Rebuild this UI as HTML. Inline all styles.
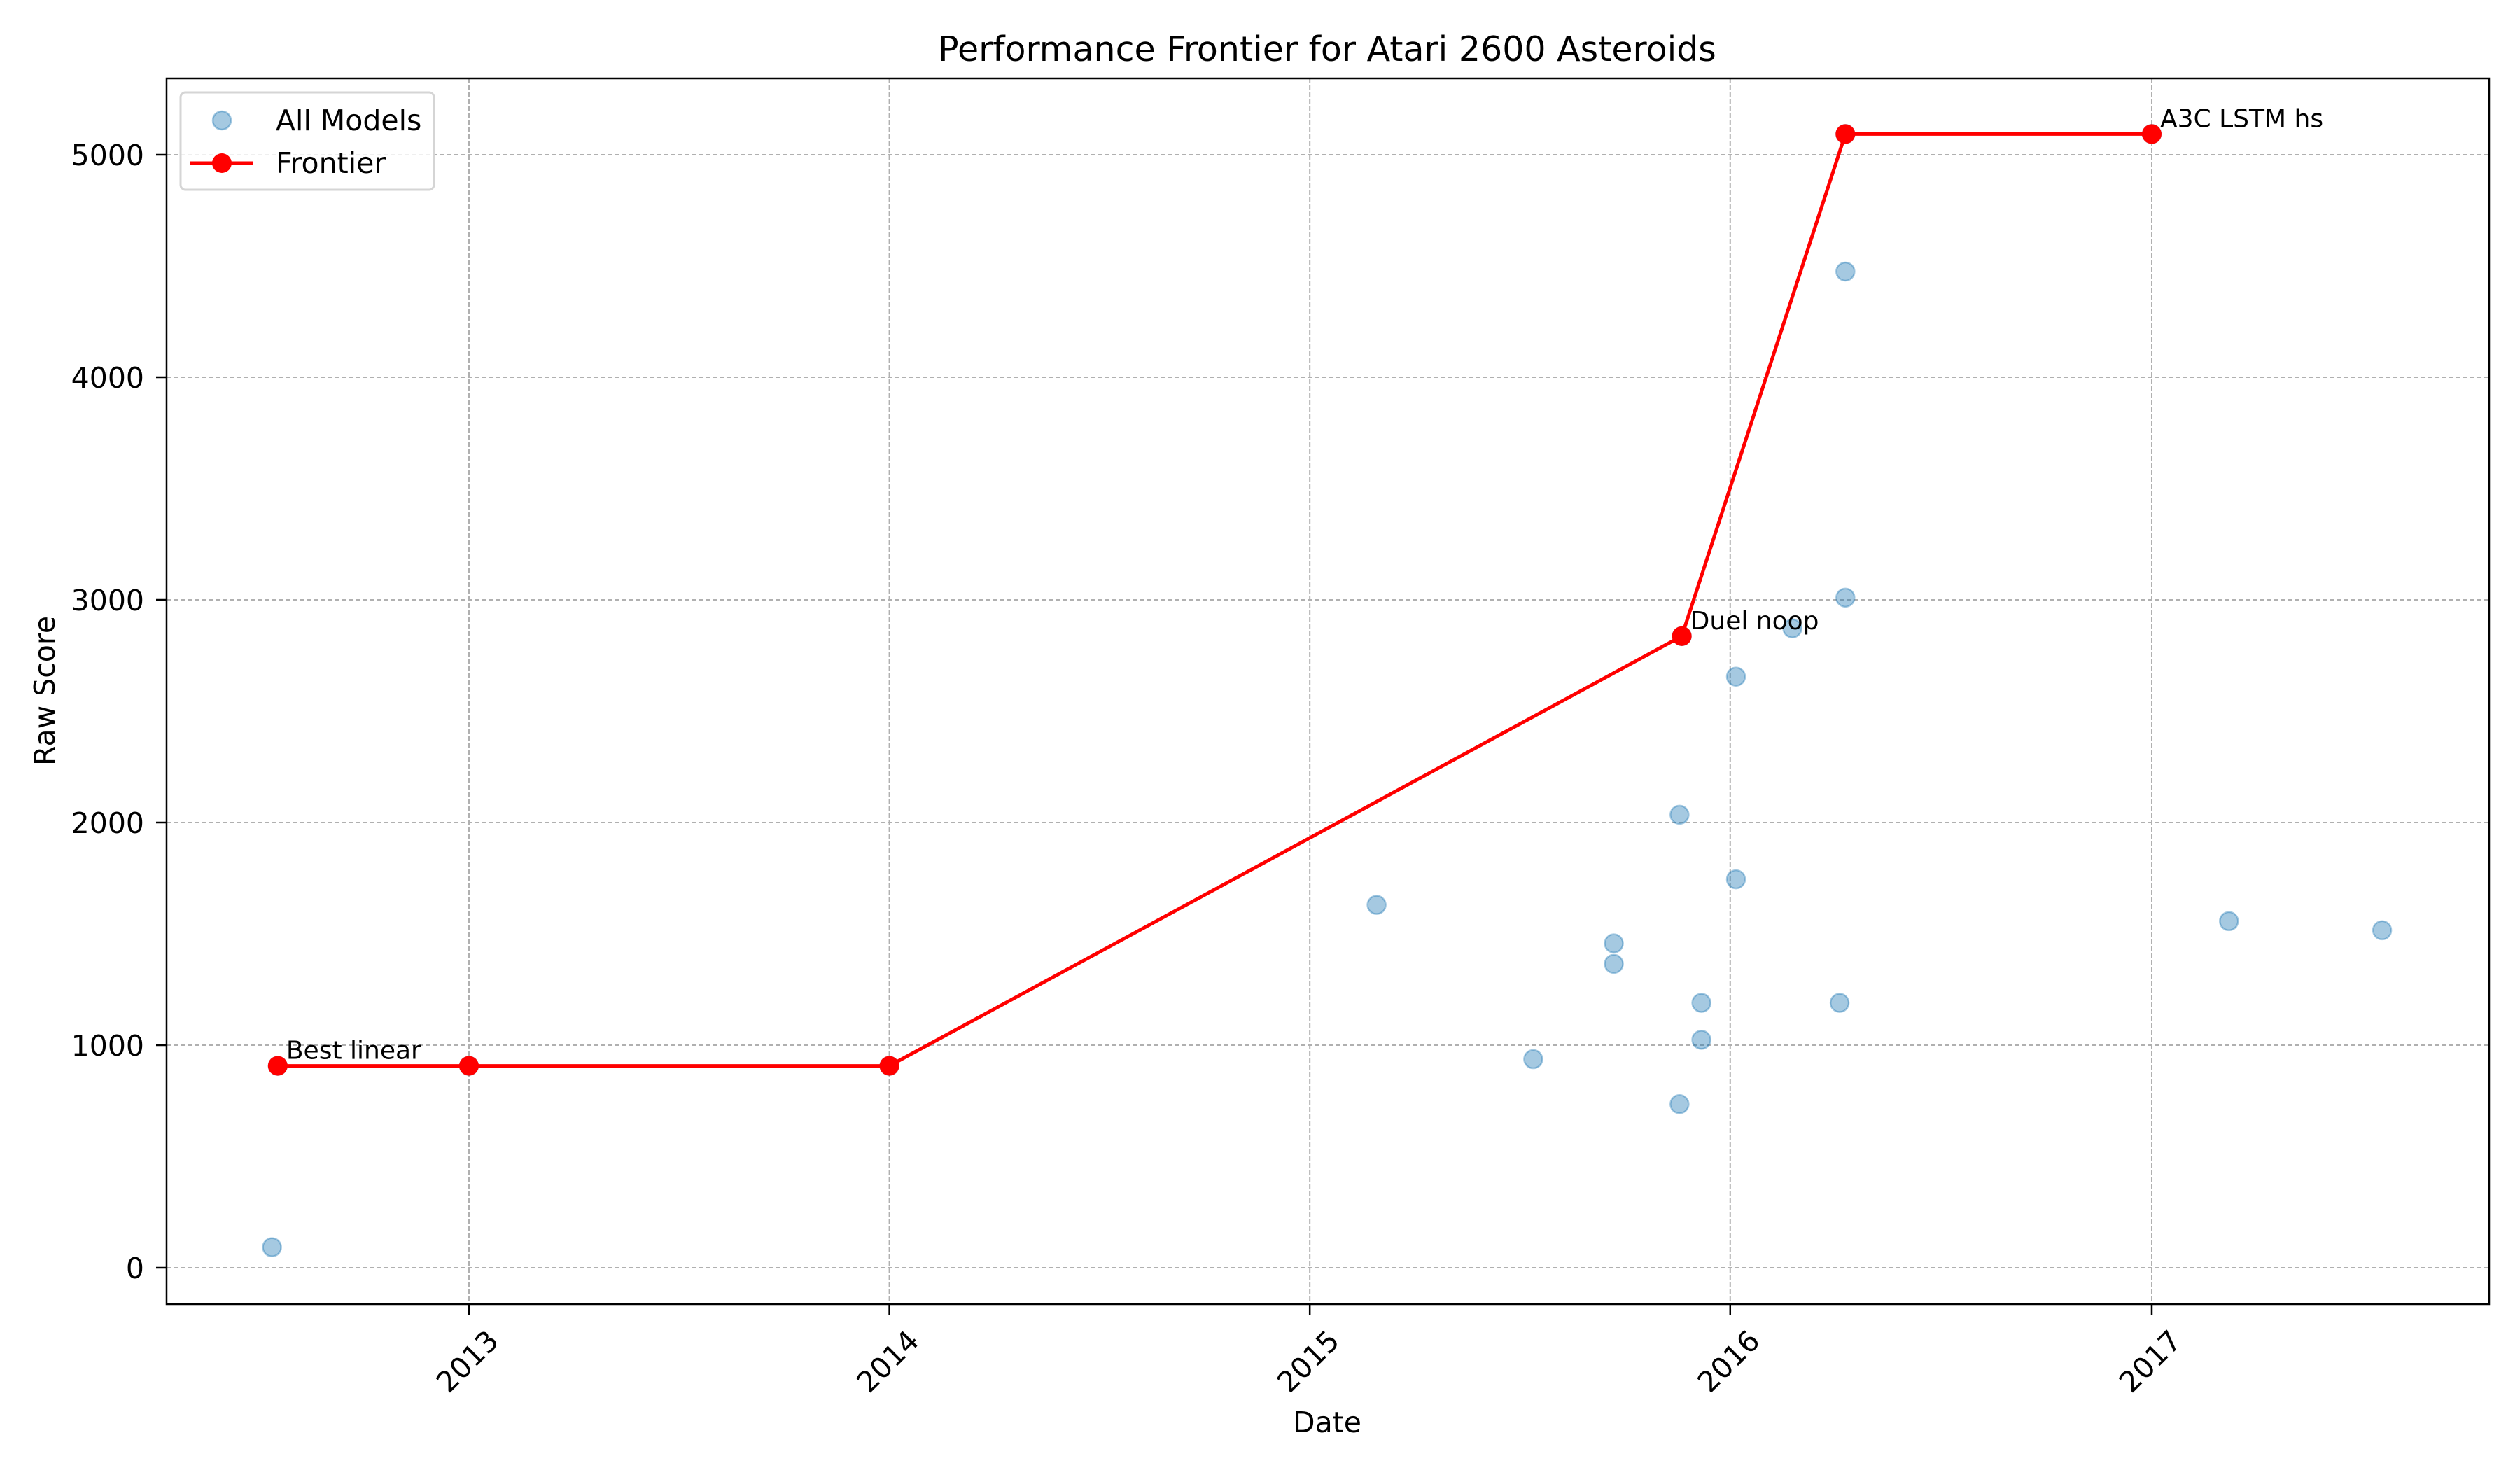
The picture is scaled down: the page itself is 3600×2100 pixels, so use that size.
<!DOCTYPE html>
<html><head><meta charset="utf-8"><style>
html,body{margin:0;padding:0;background:#fff}
svg{display:block;font-family:"DejaVu Sans","Liberation Sans",sans-serif}
</style></head><body>
<svg id="chart" width="3600" height="2100" viewBox="0 0 3600 2100" xmlns="http://www.w3.org/2000/svg">
<rect width="3600" height="2100" fill="#fff"/>
<text x="1896" y="87" font-size="49" text-anchor="middle">Performance Frontier for Atari 2600 Asteroids</text>
<g id="grid"></g>
<g id="axes"></g>
<g id="scatter"></g>
<g id="frontier"></g>
<g id="annots"></g>
<text x="1896" y="2046" font-size="41" text-anchor="middle">Date</text>
<text transform="translate(78,987) rotate(-90)" font-size="41" text-anchor="middle">Raw Score</text>
<g>
<rect x="258" y="132" width="362" height="139" rx="7" fill="#fff" fill-opacity="0.8" stroke="#d5d5d5" stroke-width="3"/>
<circle cx="317" cy="172" r="13" fill="#1f77b4" fill-opacity="0.4" stroke="#1f77b4" stroke-opacity="0.4" stroke-width="2.5"/>
<text x="394" y="186" font-size="41">All Models</text>
<line x1="272" y1="233" x2="362" y2="233" stroke="#f00" stroke-width="5"/>
<circle cx="317" cy="233" r="14" fill="#f00"/>
<text x="394" y="247" font-size="41">Frontier</text>
</g>
</svg>
<script>
const scatterDates = ["2012-07-14","2012-07-19","2013-01-01","2014-01-01","2015-02-28","2015-07-14","2015-09-22","2015-09-22","2015-11-18","2015-11-18","2015-11-20","2015-12-07","2015-12-07","2016-01-06","2016-01-06","2016-02-24","2016-04-05","2016-04-10","2016-04-10","2016-04-10","2017-01-01","2017-03-09","2017-07-20"];
const scatterScores = [92,907,907,907,1630,937,1457,1365,735,2035,2837,1190,1024,2655,1745,2872,1190,3010,4475,5093,5093,1557,1516];
const frontierDates = ["2012-07-19","2013-01-01","2014-01-01","2015-11-20","2016-04-10","2017-01-01"];
const frontierScores = [907,907,907,2837,5093,5093];
const annotLabels = ["Best linear","Duel noop","A3C LSTM hs"];
const annotDates = ["2012-07-19","2015-11-20","2017-01-01"];
const annotScores = [907,2837,5093];
const yTicks = [0,1000,2000,3000,4000,5000];
const xTickLabels = ["2013","2014","2015","2016","2017"];

const NS="http://www.w3.org/2000/svg";
const L=238,R=3556,T=112,B=1863;
const t0=Date.UTC(2013,0,1), t1=Date.UTC(2017,0,1);
function xs(d){const t=Date.parse(d+"T00:00:00Z");return 670+(t-t0)/(t1-t0)*(3074-670);}
function ys(v){return 1811-v*(1811-221)/5000;}
function mk(tag,attrs,parent){const e=document.createElementNS(NS,tag);for(const k in attrs)e.setAttribute(k,attrs[k]);parent.appendChild(e);return e;}
const grid=document.getElementById('grid'),axes=document.getElementById('axes');
yTicks.forEach(v=>{
  const y=ys(v);
  const g=mk('line',{x1:L,x2:R,y1:y,y2:y,stroke:'#b0b0b0','stroke-width':2,'stroke-dasharray':'7,3'},grid);
  
  
  const tk=mk('line',{x1:L-15,x2:L,y1:y,y2:y,stroke:'#000','stroke-width':2.5},axes);
  
  
  const tx=mk('text',{x:L-32,y:y+15,'font-size':41,'text-anchor':'end'},axes);
  tx.textContent=v;
  
  
});
xTickLabels.forEach(lab=>{
  const x=xs(lab+"-01-01");
  const g=mk('line',{x1:x,x2:x,y1:T,y2:B,stroke:'#b0b0b0','stroke-width':2,'stroke-dasharray':'7,3'},grid);
  
  
  const tk=mk('line',{x1:x,x2:x,y1:B,y2:B+15,stroke:'#000','stroke-width':2.5},axes);
  
  
  const tx=mk('text',{transform:`translate(${x},${B+84}) rotate(-45)`,'font-size':41,'text-anchor':'middle','dominant-baseline':'middle'},axes);
  tx.textContent=lab;
  
  
});
const frame=mk('rect',{x:L,y:T,width:R-L,height:B-T,fill:'none',stroke:'#000','stroke-width':2.5},axes);


const sc=document.getElementById('scatter');
scatterDates.forEach((d,i)=>{
  const c=mk('circle',{cx:xs(d),cy:ys(scatterScores[i]),r:13,fill:'#1f77b4','fill-opacity':0.4,stroke:'#1f77b4','stroke-opacity':0.4,'stroke-width':2.5},sc);
  
  
});
const fr=document.getElementById('frontier');
const pts=frontierDates.map((d,i)=>xs(d)+','+ys(frontierScores[i])).join(' ');
const pl=mk('polyline',{points:pts,fill:'none',stroke:'#f00','stroke-width':5,'stroke-linejoin':'round'},fr);


frontierDates.forEach((d,i)=>{
  const c=mk('circle',{cx:xs(d),cy:ys(frontierScores[i]),r:14,fill:'#f00'},fr);
  
  
});
const an=document.getElementById('annots');
annotLabels.forEach((lab,i)=>{
  const t=mk('text',{x:xs(annotDates[i])+12,y:ys(annotScores[i])-10,'font-size':36},an);
  t.textContent=lab;
  
  
});
</script>
</body></html>
